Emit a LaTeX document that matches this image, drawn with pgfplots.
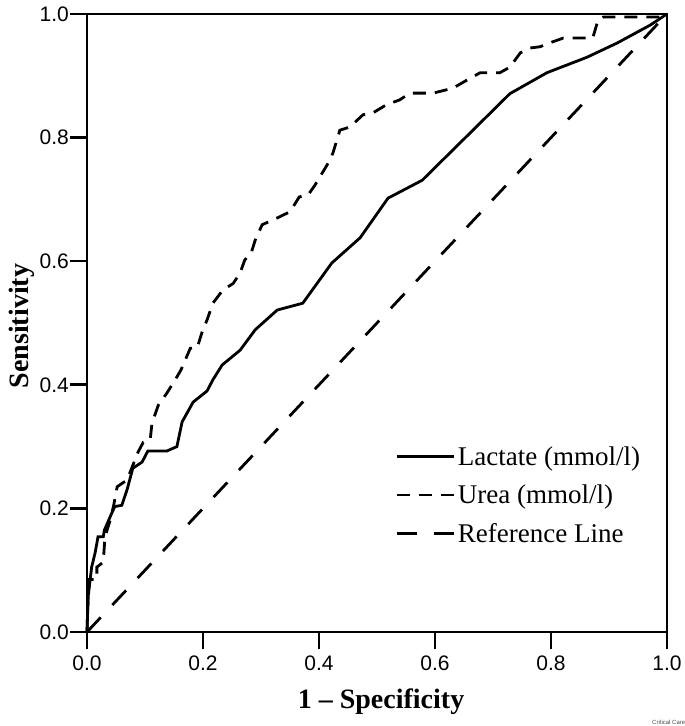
\documentclass[border=0pt]{standalone}
\usepackage{pgfplots}
\pgfplotsset{compat=1.18}
\usepackage{fontspec}
\setmainfont{Liberation Serif}
\newfontfamily\arial{Liberation Sans}
\begin{document}
\begin{tikzpicture}
\begin{axis}[
  scale only axis, width=580pt, height=618pt,
  xmin=0, xmax=1, ymin=0, ymax=1,
  clip=false,
  xtick={0,0.2,0.4,0.6,0.8,1}, ytick={0,0.2,0.4,0.6,0.8,1},
  tick align=outside, xtick pos=bottom, ytick pos=left,
  major tick length=17pt,
  tick style={line width=2.6pt, black},
  axis line style={line width=2.6pt},
  ticklabel style={font=\arial\fontsize{21}{21}\selectfont},
  xticklabel style={inner sep=2pt, yshift=-5pt},
  yticklabel style={inner sep=1pt},
  /pgf/number format/fixed, /pgf/number format/fixed zerofill,
  /pgf/number format/precision=1, /pgf/number format/assume math mode=true,
  xlabel={1 \textendash\ Specificity},
  ylabel={Sensitivity},
  xlabel style={font=\bfseries\fontsize{28}{28}\selectfont, at={(axis description cs:0.507,-0.113)}, anchor=center},
  ylabel style={font=\bfseries\fontsize{28}{28}\selectfont, at={(axis description cs:-0.112,0.495)}, anchor=center},
  legend cell align=left,
  legend image code/.code={\draw[#1] (0pt,0pt) -- (57pt,0pt);},
  legend style={draw=none, fill=none, font=\fontsize{27}{30}\selectfont,
    at={(0.531,0.305)}, anchor=north west, row sep=12pt, inner sep=0pt,
    nodes={inner sep=3pt}},
]
\coordinate (BL) at (rel axis cs:0,0);
\addplot[black, line width=2.8pt] coordinates {
(0,0) (0.002,0.057) (0.008,0.105) (0.014,0.128) (0.019,0.154) (0.028,0.154)
(0.030,0.165) (0.043,0.193) (0.048,0.203) (0.060,0.205) (0.069,0.230)
(0.079,0.265) (0.095,0.275) (0.105,0.293) (0.138,0.293) (0.155,0.300)
(0.164,0.340) (0.183,0.372) (0.207,0.390) (0.217,0.408) (0.233,0.432)
(0.264,0.456) (0.290,0.489) (0.328,0.521) (0.372,0.532) (0.422,0.597)
(0.471,0.638) (0.519,0.702) (0.578,0.731) (0.729,0.871) (0.793,0.905)
(0.862,0.930) (0.914,0.953) (0.971,0.982) (1,1)
};
\addlegendentry{Lactate (mmol/l)}
\addplot[black, line width=2.8pt, dash pattern=on 13pt off 9pt] coordinates {
(0,0) (0.002,0.06) (0.004,0.085) (0.017,0.085) (0.017,0.105) (0.028,0.113)
(0.031,0.154) (0.040,0.181) (0.046,0.205) (0.052,0.235) (0.069,0.246)
(0.088,0.291) (0.097,0.307) (0.109,0.311) (0.112,0.338) (0.123,0.367)
(0.138,0.387) (0.152,0.408) (0.162,0.424) (0.178,0.459) (0.190,0.460)
(0.198,0.484) (0.207,0.505) (0.217,0.532) (0.234,0.553) (0.252,0.564)
(0.264,0.581) (0.272,0.602) (0.283,0.613) (0.290,0.634) (0.302,0.659)
(0.328,0.670) (0.350,0.680) (0.366,0.704) (0.381,0.707) (0.393,0.723)
(0.416,0.759) (0.424,0.775) (0.436,0.812) (0.453,0.817) (0.476,0.837)
(0.493,0.840) (0.516,0.853) (0.539,0.861) (0.557,0.872) (0.597,0.872)
(0.631,0.880) (0.655,0.893) (0.678,0.905) (0.712,0.905) (0.729,0.914)
(0.747,0.937) (0.764,0.945) (0.781,0.947) (0.803,0.955) (0.821,0.961)
(0.872,0.961) (0.881,0.990) (0.890,0.995) (0.993,0.995) (1,1)
};
\addlegendentry{Urea (mmol/l)}
\addplot[black, line width=2.8pt, dash pattern=on 20pt off 17pt] coordinates {(0,0) (1,1)};
\addlegendentry{Reference Line}
\node[font=\arial\fontsize{6}{6}\selectfont, text=black!70] at (rel axis cs:1.003,-0.146) {Critical Care};
\end{axis}
\pgfresetboundingbox
\useasboundingbox ([xshift=-87pt,yshift=-94pt]BL) rectangle ([xshift=598pt,yshift=632pt]BL);
\end{tikzpicture}
\end{document}
